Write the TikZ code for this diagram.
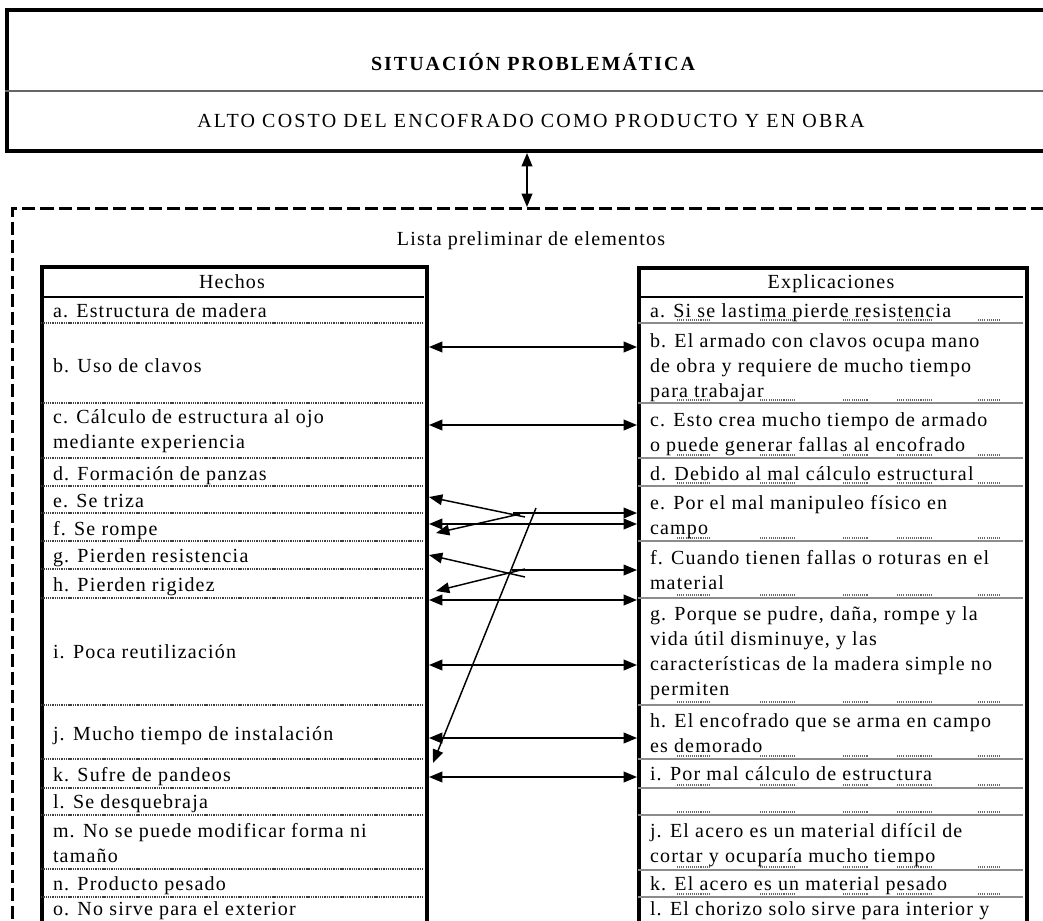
\documentclass[tikz,border=0pt]{standalone}
\usepackage{fontspec}
\setmainfont{Liberation Serif}[LetterSpace=6]
\usetikzlibrary{arrows.meta}
\begin{document}
\begin{tikzpicture}[x=0.75pt,y=-0.75pt,
  txt/.style={font=\fontsize{15pt}{18.75pt}\selectfont, inner sep=0pt, outer sep=0pt, align=left, anchor=base west},
  frame/.style={draw, line width=3pt, anchor=north west, inner sep=0pt},
  sepL/.style={draw=black!75, line width=0.9pt, dash pattern=on 1pt off 0.7pt},
  sepR/.style={draw=black!45, line width=1.1pt},
  marks/.style={draw=black!60, line width=0.8pt, dash pattern=on 0.8pt off 0.8pt},
  dbl/.style={{Triangle[length=10pt,width=8pt]}-{Triangle[length=10pt,width=8pt]}, line width=1.3pt},
  one/.style={-{Triangle[length=10pt,width=8pt]}, line width=1.1pt}]
\useasboundingbox (0,0) rectangle (1043,921);
\clip (0,0) rectangle (1043,921);

% top box
\node[frame, minimum width=791.25pt, minimum height=105.75pt] (top) at (5,8) {};
\draw[black!60, line width=0.8pt] (5,91) -- (1060,91);
\node[font=\bfseries\fontsize{15pt}{18pt}\selectfont\addfontfeature{LetterSpace=10}, inner sep=0pt] (title) at (533,62) {SITUACIÓN PROBLEMÁTICA};
\node[font=\fontsize{15pt}{18pt}\selectfont\addfontfeature{LetterSpace=11}, inner sep=0pt] (sub) at (531,121) {ALTO COSTO DEL ENCOFRADO COMO PRODUCTO Y EN OBRA};

% dashed frame
\node[draw, line width=2.25pt, dash pattern=on 9.75pt off 3.75pt, anchor=north west, inner sep=0pt,
      minimum width=786.75pt, minimum height=549.75pt] (list) at (11,207) {};
\draw[dbl] (top.south -| 527,0) -- (list.north -| 527,0);
\node[txt, anchor=base] (lista) at (531,245) {Lista preliminar de elementos};

% tables
\node[frame, minimum width=288.75pt, minimum height=506.25pt] (Ltab) at (40,265) {};
\node[frame, minimum width=291pt, minimum height=505.5pt] (Rtab) at (637,266) {};
\node[txt, anchor=base] (Lh) at (232,288) {Hechos};
\node[txt, anchor=base] (Rh) at (831,288) {Explicaciones};
\draw[line width=0.8pt] (41,297) -- (424,297);
\draw[line width=0.8pt] (638,297) -- (1023,297);

\foreach \y in {323,403,458,486,513,541,569,598,705,759,788,815,869,897}
  \draw[sepL] (41,\y) -- (424,\y);
\foreach \y in {323,403,458,486,541,598,705,759,788,815,870,897}{
  \draw[sepR] (638,\y) -- (1023,\y);
  \foreach \a/\b in {677/710,760/795,843/868,897/933,978/1000}
    \draw[marks] (\a,\y-3) -- (\b,\y-3);
}

% left texts (y = baseline of last line)
\foreach \n/\yy/\tx in {
  a/317/{a. Estructura de madera},
  b/372/{b. Uso de clavos},
  c/448/{c. Cálculo de estructura al ojo\\mediante experiencia},
  d/480/{d. Formación de panzas},
  e/507/{e. Se triza},
  f/535/{f. Se rompe},
  g/562/{g. Pierden resistencia},
  h/591/{h. Pierden rigidez},
  i/658/{i. Poca reutilización},
  j/740/{j. Mucho tiempo de instalación},
  k/781/{k. Sufre de pandeos},
  l/808/{l. Se desquebraja},
  m/862/{m. No se puede modificar forma ni\\tamaño},
  n/890/{n. Producto pesado},
  o/915/{o. No sirve para el exterior}}
  \node[txt] (L-\n) at (53,\yy) {\tx};

% right texts (y = baseline of last line)
\foreach \n/\yy/\tx in {
  a/317/{a. Si se lastima pierde resistencia},
  b/397/{b. El armado con clavos ocupa mano\\de obra y requiere de mucho tiempo\\para trabajar},
  c/451/{c. Esto crea mucho tiempo de armado\\o puede generar fallas al encofrado},
  d/480/{d. Debido al mal cálculo estructural},
  e/534/{e. Por el mal manipuleo físico en\\campo},
  f/589/{f. Cuando tienen fallas o roturas en el\\material},
  g/695/{g. Porque se pudre, daña, rompe y la\\vida útil disminuye, y las\\características de la madera simple no\\permiten},
  h/752/{h. El encofrado que se arma en campo\\es demorado},
  i/780/{i. Por mal cálculo de estructura},
  j/862/{j. El acero es un material difícil de\\cortar y ocuparía mucho tiempo},
  k/890/{k. El acero es un material pesado},
  l/915/{l. El chorizo solo sirve para interior y}}
  \node[txt] (R-\n) at (650,\yy) {\tx};

% connectors
\foreach \y in {347,425,524,600,665,738,777}
  \draw[dbl] (Ltab.east |- 0,\y) -- (Rtab.west |- 0,\y);

\coordinate (j1a) at (525,517);
\coordinate (j1b) at (520,514);
\coordinate (j1c) at (513,513);
\coordinate (fL) at (436,533);
\draw[one] (j1a) -- (Ltab.east |- 0,497);
\draw[one] (j1b) -- (fL);
\draw[one] (j1c) -- (Rtab.west |- 0,513);

\coordinate (j2a) at (525,577);
\coordinate (j2b) at (525,569);
\coordinate (j2c) at (512,570);
\coordinate (hL) at (436,591);
\draw[one] (j2a) -- (Ltab.east |- 0,555);
\draw[one] (j2b) -- (hL);
\draw[one] (j2c) -- (Rtab.west |- 0,570);

\coordinate (dtop) at (536,508);
\coordinate (dbot) at (433,763);
\draw[one] (dtop) -- (dbot);
\end{tikzpicture}
\end{document}
